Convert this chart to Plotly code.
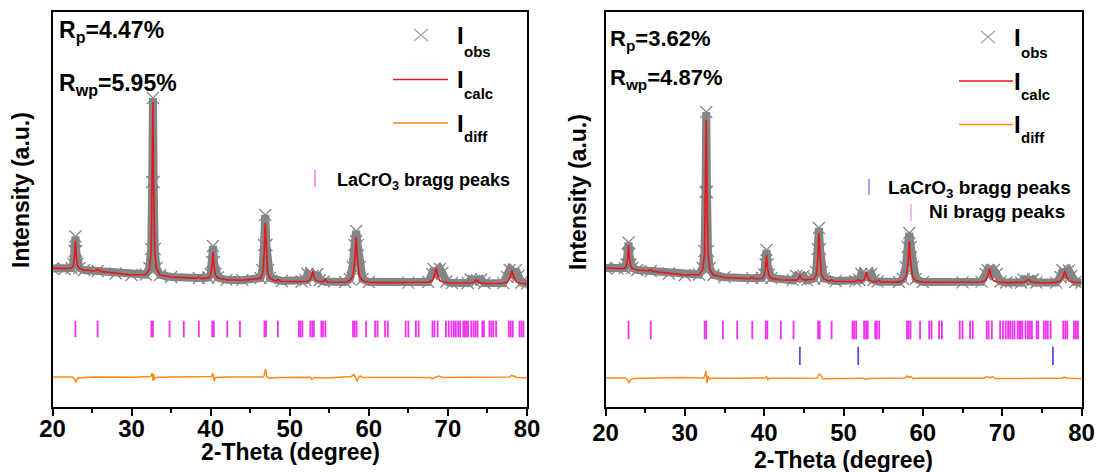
import plotly.graph_objects as go

# ---------------- data: left panel ----------------
calc_L = [(20, 139), (21.5, 138.4), (22.4, 138.9), (22.65, 141.7), (22.8, 151.8), (22.9, 166),
          (23.0, 151.8), (23.15, 141.7), (23.4, 138.7), (24.0, 137), (25.3, 136), (25.7, 137.5),
          (26.1, 135.6), (28, 133.5), (30, 132), (31.8, 132.5), (32.25, 138), (32.48, 155.4),
          (32.61, 218), (32.7, 305), (32.79, 218), (32.92, 155.4), (33.15, 138), (33.6, 132),
          (35, 130), (36.6, 129.3), (38.2, 128.6), (38.5, 130), (38.8, 128.4), (39.7, 129.1),
          (40.0, 131.8), (40.18, 141.5), (40.3, 155), (40.42, 141.5), (40.6, 131.8), (40.9, 129.1),
          (42, 127.2), (44, 126.8), (46.3, 128.6), (46.6, 134.4), (46.78, 155.3), (46.9, 184.3),
          (47.02, 155.3), (47.2, 134.4), (47.5, 128.6), (48.2, 126), (48.5, 127.5), (48.8, 125.8),
          (51, 125.4), (52.2, 125.7), (52.55, 126.8), (52.76, 131), (52.9, 136.7), (53.04, 131),
          (53.25, 126.8), (53.6, 125.7), (54.2, 125.1), (54.5, 127.3), (54.8, 125), (57.0, 124.8),
          (57.6, 126.5), (58.0, 131.1), (58.24, 147.5), (58.4, 170.2), (58.56, 147.5), (58.8, 131.1),
          (59.2, 126.5), (60, 124.6), (62, 124.4), (65, 124.3), (67.5, 124.7), (68.0, 126.2),
          (68.3, 131.6), (68.5, 139.1), (68.7, 131.6), (69.0, 126.2), (69.5, 124.7), (70.5, 124),
          (72.5, 123.8), (73.1, 124.2), (73.35, 125.4), (73.6, 127.2), (73.85, 125.4), (74.1, 124.2),
          (75, 123.5), (77.0, 123.7), (77.55, 125.1), (77.88, 130), (78.1, 136.7), (78.32, 130),
          (78.65, 125.1), (79.2, 123.7), (80, 123)]

obs_L = [(20, 138.5), (21.5, 138), (22.4, 139), (22.65, 143), (22.8, 156), (22.9, 170.5), (23.0, 156),
         (23.15, 143), (23.4, 139), (24, 137), (25.7, 136), (28, 133.5), (30, 132), (31.8, 132.5),
         (32.25, 139), (32.48, 158), (32.61, 225), (32.7, 309), (32.79, 225), (32.92, 158), (33.15, 139),
         (33.6, 132), (35, 130), (38.5, 129), (39.7, 129.5), (40.0, 133), (40.18, 145), (40.3, 161),
         (40.42, 145), (40.6, 133), (40.9, 129.5), (42, 127.2), (44, 126.8), (46.3, 129), (46.55, 137),
         (46.75, 162), (46.9, 192), (47.05, 162), (47.25, 137), (47.5, 129), (49, 126), (51.5, 125.5),
         (52.0, 127), (52.25, 133), (52.6, 130), (52.9, 131), (53.2, 130), (53.5, 133), (53.8, 127),
         (54.3, 125.5), (57.0, 125), (57.6, 128), (57.95, 140), (58.2, 162), (58.4, 176), (58.6, 162),
         (58.85, 140), (59.2, 128), (60, 125), (65, 124.3), (67.5, 125), (68.0, 133), (68.2, 138),
         (68.6, 134), (69.0, 138), (69.3, 134), (69.8, 125.5), (70.5, 124), (72.5, 124), (72.9, 127.5),
         (73.3, 126), (73.7, 126.5), (74.2, 127.5), (74.6, 124), (77, 123.8), (77.5, 130), (77.8, 137),
         (78.2, 133), (78.6, 137), (78.9, 131), (79.3, 124.5), (80, 123.5)]

diff_L = [(20, 30), (22.5, 30), (22.8, 28), (22.95, 24.5), (23.2, 29), (25, 30), (30, 29.8), (32.4, 30.5),
          (32.6, 34), (32.7, 26), (32.8, 33), (32.9, 28), (33.2, 29.7), (38, 29.8), (40.1, 30.5),
          (40.25, 34), (40.45, 26), (40.6, 29.5), (42, 30), (46.7, 30), (46.85, 37.5), (46.95, 38),
          (47.1, 30), (47.5, 28.8), (48.5, 29.5), (52.6, 29.8), (52.8, 27.5), (53.1, 29.5), (54.5, 29),
          (57.8, 30.5), (58.1, 32.5), (58.3, 30), (58.5, 25.5), (58.7, 29.5), (58.9, 31), (59.2, 29.5),
          (62, 29.6), (67.8, 29.5), (68.0, 28), (68.3, 29.5), (68.9, 31), (69.3, 29.5), (72, 29.7),
          (77.8, 30), (78.0, 31.5), (78.4, 31), (78.7, 29.5), (80, 29.3)]

# ---------------- data: right panel ----------------
calc_R = [(20, 139.3), (21.5, 138.5), (22.4, 138.8), (22.65, 141.2), (22.8, 149.9), (22.9, 162),
          (23.0, 149.9), (23.15, 141.2), (23.4, 138.6), (24.0, 137), (25.4, 136), (25.7, 137.3),
          (26.0, 135.6), (28, 133.5), (30, 132), (31.8, 132.5), (32.25, 137.2), (32.48, 152.8),
          (32.61, 209), (32.7, 287), (32.79, 209), (32.92, 152.8), (33.15, 137.2), (33.6, 132),
          (35, 129.5), (38.2, 128.3), (38.5, 129.5), (38.8, 128), (39.7, 128.8), (40.0, 131.2),
          (40.18, 139.9), (40.3, 152), (40.42, 139.9), (40.6, 131.2), (40.9, 128.6), (42, 127.2),
          (44.0, 126.9), (44.3, 127.6), (44.38, 129.3), (44.5, 132), (44.62, 129.3), (44.8, 127.6),
          (45.1, 126.9), (46.3, 128.2), (46.6, 133), (46.78, 150.2), (46.9, 174), (47.02, 150.2),
          (47.2, 133), (47.5, 128.2), (48.2, 125.8), (48.5, 127), (48.8, 125.7), (51.5, 125.4),
          (51.85, 127.5), (52.2, 125.8), (52.55, 126.8), (52.76, 130.4), (52.9, 135.5), (53.04, 130.4),
          (53.25, 126.8), (53.6, 125.6), (54.1, 125.1), (54.4, 127), (54.7, 125), (57.0, 124.9),
          (57.5, 126.4), (57.9, 130.5), (58.14, 145.2), (58.3, 165.5), (58.46, 145.2), (58.7, 130.5),
          (59.1, 126.4), (60, 124.7), (65, 124.5), (67.4, 125), (67.9, 126.4), (68.2, 131.3),
          (68.4, 138), (68.6, 131.3), (68.9, 126.4), (69.4, 125), (70.5, 124.4), (72.8, 124.8),
          (73.05, 125.8), (73.3, 127.5), (73.55, 125.8), (73.8, 124.8), (75, 124.3), (76.2, 124.3),
          (76.4, 125.2), (76.6, 124.3), (76.8, 124.7), (77.35, 125.9), (77.68, 130.1), (77.9, 136),
          (78.12, 130.1), (78.45, 125.9), (79.0, 124.7), (80, 124.2)]

obs_R = [(20, 139), (21.5, 138.5), (22.4, 139), (22.65, 142.5), (22.8, 153), (22.9, 164.5), (23.0, 153),
         (23.15, 142.5), (23.4, 139), (24, 137), (25.7, 136), (28, 133.5), (30, 132), (31.8, 132.5),
         (32.25, 139), (32.48, 156), (32.61, 215), (32.7, 295), (32.79, 215), (32.92, 156), (33.15, 139),
         (33.6, 132), (35, 129.8), (38.5, 128.8), (39.7, 129.2), (40.0, 132.5), (40.18, 142.5),
         (40.3, 157), (40.42, 142.5), (40.6, 132.5), (40.9, 129), (43.6, 126.8), (44.05, 131),
         (44.5, 128.5), (44.95, 131), (45.4, 126.8), (46.3, 128.5), (46.55, 135), (46.75, 158),
         (46.9, 179), (47.05, 158), (47.25, 135), (47.5, 128.5), (49, 126), (51.5, 125.8), (52.0, 127),
         (52.25, 133), (52.6, 130), (52.9, 131), (53.2, 130), (53.5, 133), (53.8, 127), (54.3, 125.5),
         (57.0, 125), (57.5, 128), (57.85, 140), (58.1, 160), (58.3, 174), (58.5, 160), (58.75, 140),
         (59.1, 128), (60, 125), (65, 124.6), (67.4, 125.3), (67.9, 133), (68.15, 137), (68.55, 134),
         (68.95, 137), (69.3, 133), (69.8, 125.5), (70.5, 124.5), (72.4, 124.5), (72.7, 127.5),
         (73.2, 126), (73.6, 126.2), (73.9, 127.5), (74.3, 124.5), (76.8, 124.4), (77.35, 130),
         (77.6, 137), (78.0, 133), (78.4, 136.5), (78.7, 131), (79.2, 125), (80, 124.5)]

diff_R = [(20, 29), (22.5, 29), (22.8, 27), (22.95, 23.8), (23.2, 27.5), (23.6, 28.5), (25, 28.7),
          (29.3, 29.5), (32.4, 29), (32.6, 33), (32.7, 36), (32.78, 24), (32.9, 31), (33.1, 28),
          (33.4, 28.7), (40.1, 29), (40.3, 30.5), (40.45, 26.8), (40.6, 28.7), (46.7, 29), (46.9, 32.5),
          (47.1, 32.5), (47.4, 28), (47.8, 28.3), (52.5, 28.8), (52.8, 27.5), (53.1, 28.5), (57.8, 29),
          (58.0, 31), (58.3, 29.5), (58.5, 30.5), (58.8, 28.2), (59.2, 28.7), (67.8, 28.8), (68.1, 30.5),
          (68.5, 29), (68.8, 30.5), (69.1, 28.5), (77.5, 28.7), (77.8, 30), (78.1, 29), (80, 28.3)]

# Bragg reflection positions (2-theta, degree)
lacro3_peaks = [22.9, 25.7, 32.5, 32.7, 34.8, 36.6, 38.5, 40.2, 40.4, 42.1, 43.7, 46.8, 47.0, 48.5,
                51.15, 51.35, 51.6, 52.6, 52.85, 53.05, 54.0, 54.2, 54.5, 58.0, 58.2, 58.45, 59.65,
                60.8, 61.1, 62.05, 62.4, 64.65, 65.0, 65.95, 66.3, 68.05, 68.3, 68.7, 69.75, 70.1,
                70.45, 70.75, 71.0, 71.3, 71.55, 71.95, 72.15, 72.35, 72.55, 72.95, 73.25, 73.5,
                73.75, 74.35, 74.55, 75.25, 75.5, 75.75, 76.1, 77.7, 77.95, 78.2, 79.05, 79.3, 79.55]
ni_peaks = [44.5, 51.85, 76.4]

# tick-row extents (intensity units)
row_main_L = (69.7, 86.3)
row_main_R = (67.7, 86.3)
row_ni_R = (42.0, 60.3)

x_ticks = [20, 30, 40, 50, 60, 70, 80]
r_texts_L = ["R<sub>p</sub>=4.47%", "R<sub>wp</sub>=5.95%"]
r_texts_R = ["R<sub>p</sub>=3.62%", "R<sub>wp</sub>=4.87%"]

# ---------------- styling ----------------
W, H = 1097, 472
FONT = "Liberation Sans, Arial, sans-serif"
C_OBS = "rgb(133,133,133)"
C_CALC = "rgb(232,22,28)"
C_DIFF = "rgb(255,138,20)"
C_PINK = "rgb(238,50,238)"
C_BLUE = "rgb(80,80,225)"


def X(px):
    return px / W


def Y(py):
    return 1 - py / H


def unzip(pairs):
    return [p[0] for p in pairs], [p[1] for p in pairs]


def tick_xy(positions, lo, hi):
    xs, ys = [], []
    for p in positions:
        xs += [p, p, None]
        ys += [lo, hi, None]
    return xs, ys


fig = go.Figure()


def add_panel(obs, calc, diff, xa, ya):
    ox, oy = unzip(obs)
    fig.add_trace(go.Scatter(x=ox, y=oy, mode="lines+markers", xaxis=xa, yaxis=ya,
                             line=dict(color=C_OBS, width=8),
                             marker=dict(symbol="x-thin-open", size=12, color=C_OBS,
                                         line=dict(color=C_OBS, width=1.2)),
                             showlegend=False, hoverinfo="skip"))
    cx, cy = unzip(calc)
    fig.add_trace(go.Scatter(x=cx, y=cy, mode="lines", xaxis=xa, yaxis=ya,
                             line=dict(color=C_CALC, width=1.6), showlegend=False))
    dx, dy = unzip(diff)
    fig.add_trace(go.Scatter(x=dx, y=dy, mode="lines", xaxis=xa, yaxis=ya,
                             line=dict(color=C_DIFF, width=1.5), showlegend=False))


def add_ticks(positions, rng, color, xa, ya):
    tx, ty = tick_xy(positions, *rng)
    fig.add_trace(go.Scatter(x=tx, y=ty, mode="lines", xaxis=xa, yaxis=ya,
                             line=dict(color=color, width=1.8), showlegend=False,
                             hoverinfo="skip"))


add_panel(obs_L, calc_L, diff_L, "x", "y")
add_ticks(lacro3_peaks, row_main_L, C_PINK, "x", "y")
add_panel(obs_R, calc_R, diff_R, "x2", "y2")
add_ticks(lacro3_peaks, row_main_R, C_PINK, "x2", "y2")
add_ticks(ni_peaks, row_ni_R, C_BLUE, "x2", "y2")

axis_common = dict(range=[20, 80], tickvals=x_ticks, ticks="outside", ticklen=7, tickwidth=1.5,
                   tickcolor="black", showline=True, linecolor="black", linewidth=1.5, mirror=True,
                   showgrid=False, zeroline=False,
                   tickfont=dict(family=FONT, size=24, color="black", weight="bold"),
                   minor=dict(dtick=5, ticks="outside", ticklen=4, tickwidth=1.5, tickcolor="black"),
                   automargin=False)
yaxis_common = dict(range=[0, 395], showticklabels=False, ticks="", showline=True, linecolor="black",
                    linewidth=1.5, mirror=True, showgrid=False, zeroline=False, automargin=False)

y_dom = [Y(407), Y(12)]
fig.update_layout(
    width=W, height=H, margin=dict(l=0, r=0, t=0, b=0),
    paper_bgcolor="white", plot_bgcolor="white", showlegend=False,
    xaxis=dict(domain=[X(52.5), X(527)], anchor="y", ticklabelstandoff=-8, **axis_common),
    yaxis=dict(domain=y_dom, anchor="x", **yaxis_common),
    xaxis2=dict(domain=[X(605.5), X(1081.5)], anchor="y2", ticklabelstandoff=-4, **axis_common),
    yaxis2=dict(domain=y_dom, anchor="x2", **yaxis_common),
)

annotations = []
shapes = []


def text(s, px, py, size, anchor="left", angle=0, color="black"):
    annotations.append(dict(text="<b>" + s + "</b>", x=X(px), y=Y(py), xref="paper", yref="paper",
                            xanchor=anchor, yanchor="middle", showarrow=False, textangle=angle,
                            font=dict(family=FONT, size=size, color=color)))


def seg(x0, y0, x1, y1, color, width):
    shapes.append(dict(type="line", xref="paper", yref="paper", x0=X(x0), y0=Y(y0), x1=X(x1),
                       y1=Y(y1), line=dict(color=color, width=width)))


# axis titles
text("2-Theta (degree)", 290, 452, 23, anchor="center")
text("2-Theta (degree)", 843, 460, 23, anchor="center")
text("Intensity (a.u.)", 21, 190, 23, anchor="center", angle=-90)
text("Intensity (a.u.)", 578, 192, 23, anchor="center", angle=-90)

# R factors
text(r_texts_L[0], 57, 31, 23)
text(r_texts_L[1], 57, 85, 23)
text(r_texts_R[0], 608, 40, 22)
text(r_texts_R[1], 608, 79, 22)


def legend_block(xsym, xline0, xline1, xi, ys):
    (yo, yc, yd), (so, sc, sd) = ys
    seg(xsym - 7, yo - 6, xsym + 7, yo + 6, "rgb(165,165,165)", 1.2)
    seg(xsym - 7, yo + 6, xsym + 7, yo - 6, "rgb(165,165,165)", 1.2)
    seg(xline0, yc, xline1, yc, C_CALC, 1.6)
    seg(xline0, yd, xline1, yd, C_DIFF, 1.5)
    for yI, ysub, sub in ((yo, so, "obs"), (yc, sc, "calc"), (yd, sd, "diff")):
        text("I", xi, yI, 24)
        text(sub, xi + 7, ysub, 15)


legend_block(421, 393, 448, 455, ((35, 79.5, 123), (51, 93, 136.5)))
legend_block(988, 959, 1013, 1012, ((37, 81, 124.5), (52.5, 94, 137)))

# bragg legends
seg(315, 170, 315, 187, "rgb(240,120,240)", 1.5)
text("LaCrO<sub>3</sub> bragg peaks", 335, 181, 18)
seg(869, 179, 869, 195, "rgb(130,130,240)", 1.5)
text("LaCrO<sub>3</sub> bragg peaks", 886, 189, 19)
seg(911, 204, 911, 221, "rgb(240,160,240)", 1.5)
text("Ni bragg peaks", 927, 211, 19)

fig.update_layout(annotations=annotations, shapes=shapes)
fig.write_html("out.html", config={"displayModeBar": False},
               post_script="document.body.style.margin='0';document.body.style.overflow='hidden';")
